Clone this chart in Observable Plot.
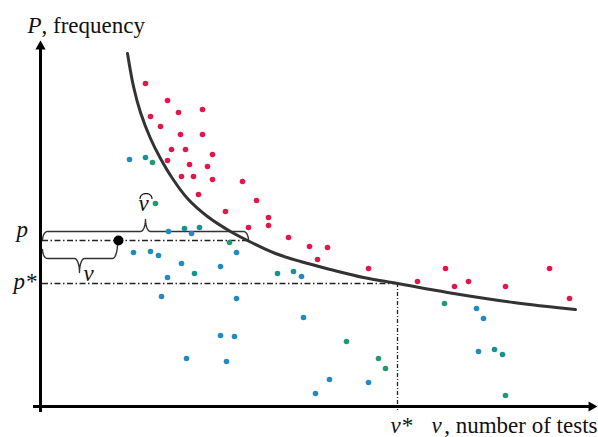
<!DOCTYPE html>
<html><head><meta charset="utf-8">
<script src="https://cdn.jsdelivr.net/npm/d3@7"></script>
<script src="https://cdn.jsdelivr.net/npm/@observablehq/plot@0.6"></script>
<style>body{margin:0;background:#fff}</style>
</head><body><div id="chart"></div>
<script>
// scatter points (ν = number of tests, P = frequency), in diagram units
const redNu = [105,127,138,162,110,120,140,162,131,145,172,127,149,167,141,153,172,202,158,216,185,228,228,208,248,269,287,277,328,405,377,414,428,465,509,529];
const redP  = [323,306,294,297,290,280,272,272,257,257,252,246,242,240,230,230,227,225,212,206,195,189,181,179,169,160,159,147,138,138,125,120,125,120,138,108];
const blueNu = [89,128,151,93,110,118,141,180,196,127,261,121,196,263,180,194,146,186,289,328,275,436,443,438];
const blueP  = [247,175,173,154,155,151,143,140,154,129,130,110,108,89,71,70,48,45,27,24,13,98,88,55];
const tealNu = [105,144,159,154,237,253,454,462];
const tealP  = [249,178,179,133,133,135,57,52];
const greenNu = [112,115,189,306,338,345,404,465];
const greenP  = [244,203,164,65,48,38,103,11];

// boundary curve
const curveNu = [87,93,100,110,120,132,147,167,190,213,235,260,290,323,357,407,473,535];
const curveP  = [353,320,294,268,248,228,208,190,175,163,153,145,137,129,123,114,104,97];

// reference levels
const pLevel = 166, pStar = 123, nuStar = 357, nuHat = 208, nuPoint = 78;

// braces: [from, to, baseLeft, baseRight, level, tip, at]
const braceUpper = [2, 208, 166, 166, 175, 187, 105];
const braceLower = [2, 77, 157, 163, 148, 134, 39];

// labels (start-anchored)
const labelText = ["P", ", frequency", "p", "p*", "ν", "ν", "ν*", "ν"];
const labelNu   = [-13, 1, -24, -27, 98, 43, 350, 391];
const labelP    = [374, 374, 170, 118, 196, 126, -26, -26];
const labelItalic = [true, false, true, true, true, true, true, true];
// end-anchored axis label
const xLabelText = ", number of tests", xLabelNu = 557, xLabelP = -26;
// hat accent over ν̂: [centre, half-width, base, height]
const hat = [105.5, 6, 208, 5];

const pts = (xs, ys) => xs.map((x, i) => ({x, y: ys[i]}));

function brace([from, to, bL, bR, level, tip, at], rx = 5) {
  const out = [], n = 10, H = Math.PI / 2;
  for (let i = 0; i <= n; i++) { const t = i / n * H; out.push({x: from + rx * (1 - Math.cos(t)), y: bL + (level - bL) * Math.sin(t)}); }
  for (let i = 0; i <= n; i++) { const t = i / n * H; out.push({x: at - rx + rx * Math.sin(t), y: level + (tip - level) * (1 - Math.cos(t))}); }
  for (let i = 0; i <= n; i++) { const t = i / n * H; out.push({x: at + rx * (1 - Math.cos(t)), y: tip + (level - tip) * Math.sin(t)}); }
  for (let i = 0; i <= n; i++) { const t = i / n * H; out.push({x: to - rx + rx * Math.sin(t), y: level + (bR - level) * (1 - Math.cos(t))}); }
  return out;
}
function arc([cx, w, base, h]) {
  const out = [], n = 14;
  for (let i = 0; i <= n; i++) { const t = Math.PI - i / n * Math.PI; out.push({x: cx + w * Math.cos(t), y: base + h * Math.sin(t)}); }
  return out;
}

const labels = labelText.map((t, i) => ({t, x: labelNu[i], y: labelP[i], it: labelItalic[i]}));
const dash = "6,2.5,1.5,2.5";
const font = "Liberation Serif, Times New Roman, serif";

const chart = Plot.plot({
  width: 598, height: 437,
  marginTop: 0, marginRight: 0, marginBottom: 0, marginLeft: 0,
  x: {domain: [-40, 558], axis: null},
  y: {domain: [-31, 406], axis: null},
  style: {background: "#fff"},
  marks: [
    // dash-dot guides
    Plot.ruleY([pLevel], {x1: 2, x2: nuHat, stroke: "#222", strokeWidth: 1.5, strokeDasharray: dash}),
    Plot.ruleY([pStar], {x1: 2, x2: nuStar, stroke: "#222", strokeWidth: 1.5, strokeDasharray: dash}),
    Plot.ruleX([nuStar], {y1: pStar, y2: -4, stroke: "#222", strokeWidth: 1.3, strokeDasharray: "4,2,1,2"}),
    // braces
    Plot.line(brace(braceUpper), {x: "x", y: "y", stroke: "#333", strokeWidth: 1.4}),
    Plot.line(brace(braceLower), {x: "x", y: "y", stroke: "#333", strokeWidth: 1.4}),
    // points
    Plot.dot(pts(redNu, redP), {x: "x", y: "y", r: 2.8, fill: "#e3164a"}),
    Plot.dot(pts(blueNu, blueP), {x: "x", y: "y", r: 2.8, fill: "#2389c2"}),
    Plot.dot(pts(tealNu, tealP), {x: "x", y: "y", r: 2.8, fill: "#16938f"}),
    Plot.dot(pts(greenNu, greenP), {x: "x", y: "y", r: 2.8, fill: "#229a70"}),
    // curve
    Plot.line(pts(curveNu, curveP), {x: "x", y: "y", curve: "catmull-rom", stroke: "#333", strokeWidth: 3}),
    // black point (ν, p)
    Plot.dot([{x: nuPoint, y: pLevel}], {x: "x", y: "y", r: 5, fill: "#000"}),
    // axes
    Plot.ruleX([0], {y1: -6, y2: 362, stroke: "#000", strokeWidth: 3}),
    Plot.ruleY([0], {x1: -7, x2: 551, stroke: "#000", strokeWidth: 3}),
    Plot.dot([{x: 0, y: 360}], {x: "x", y: "y", symbol: "triangle", r: 3.8, fill: "#000", stroke: null}),
    Plot.dot([{x: 551, y: 0}], {x: "x", y: "y", symbol: "triangle", r: 3.8, rotate: 90, fill: "#000", stroke: null}),
    // labels
    Plot.text(labels.filter(d => d.it), {x: "x", y: "y", text: "t", textAnchor: "start", lineAnchor: "bottom", fontSize: 23, fontFamily: font, fontStyle: "italic", fill: "#111"}),
    Plot.text(labels.filter(d => !d.it), {x: "x", y: "y", text: "t", textAnchor: "start", lineAnchor: "bottom", fontSize: 23, fontFamily: font, fill: "#111"}),
    Plot.text([xLabelText], {x: xLabelNu, y: xLabelP, text: d => d, textAnchor: "end", lineAnchor: "bottom", fontSize: 23, fontFamily: font, fill: "#111"}),
    // hat accent
    Plot.line(arc(hat), {x: "x", y: "y", stroke: "#111", strokeWidth: 1.2})
  ]
});
document.getElementById("chart").append(chart);
</script>
</body></html>
